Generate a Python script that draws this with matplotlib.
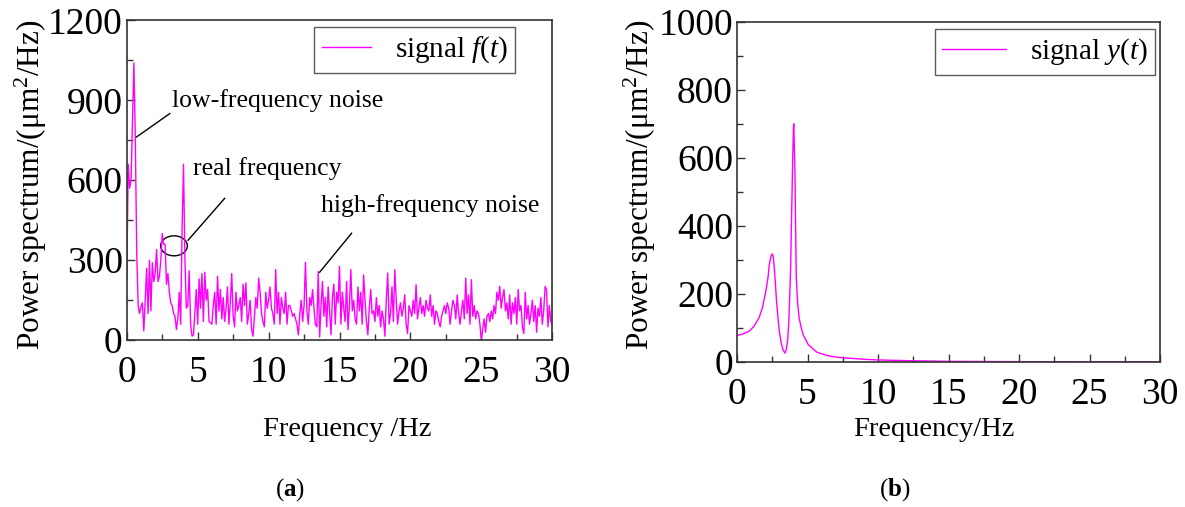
import numpy as np
import matplotlib
matplotlib.use('Agg')
import matplotlib.pyplot as plt
from matplotlib.patches import Ellipse
from matplotlib.ticker import MultipleLocator

# panel (a): measured spectrum, one value every 0.1 Hz from 0 to 30 Hz
psd_f = [
    230, 660, 570, 600, 820, 1040, 760, 330, 130, 100,
    125, 140, 35, 150, 270, 100, 300, 110, 290, 220,
    250, 340, 220, 240, 300, 400, 360, 360, 210, 250,
    180, 140, 130, 100, 90, 40, 80, 180, 60, 420,
    660, 300, 120, 130, 260, 60, 15, 20, 100, 190,
    60, 230, 120, 250, 70, 255, 150, 190, 70, 65,
    60, 130, 180, 60, 240, 110, 190, 80, 160, 70,
    120, 200, 60, 140, 250, 90, 50, 180, 110, 130,
    160, 70, 210, 130, 215, 60, 100, 150, 40, 15,
    90, 160, 120, 233, 180, 100, 70, 50, 180, 120,
    150, 200, 120, 100, 60, 265, 100, 180, 60, 160,
    120, 100, 180, 60, 130, 130, 110, 90, 100, 80,
    60, 20, 100, 150, 70, 130, 292, 110, 60, 160,
    130, 190, 120, 60, 50, 258, 12, 130, 220, 90,
    160, 50, 200, 110, 20, 160, 210, 60, 180, 140,
    277, 60, 180, 120, 70, 220, 40, 130, 265, 110,
    150, 80, 60, 200, 110, 180, 60, 245, 150, 70,
    20, 120, 190, 100, 110, 70, 160, 90, 130, 50,
    110, 80, 15, 150, 252, 60, 100, 200, 70, 265,
    150, 60, 110, 140, 90, 120, 170, 60, 25, 130,
    110, 90, 150, 100, 208, 80, 120, 160, 100, 130,
    90, 150, 120, 110, 170, 90, 130, 60, 110, 100,
    70, 50, 90, 110, 130, 100, 140, 120, 60, 110,
    150, 130, 80, 170, 100, 60, 110, 150, 80, 233,
    100, 170, 60, 227, 90, 130, 80, 110, 100, 60,
    2, 40, 80, 30, 90, 100, 70, 110, 80, 130,
    100, 180, 150, 202, 120, 160, 190, 110, 140, 80,
    170, 60, 140, 100, 160, 60, 190, 110, 130, 50,
    25, 180, 80, 130, 60, 100, 150, 70, 130, 30,
    120, 90, 160, 60, 110, 202, 190, 50, 130, 70,
    60,
]
freq_a = np.arange(len(psd_f)) * 0.1

# panel (b): filtered spectrum
freq_b = [0, 0.4, 0.84, 1.2, 1.56, 1.8, 2.04, 2.2, 2.28, 2.4, 2.48, 2.56, 2.64,
          2.72, 2.8, 2.9, 3.0, 3.12, 3.25, 3.41, 3.5, 3.6, 3.67, 3.73, 3.8,
          3.85, 3.9, 3.94, 3.97, 4.0, 4.02, 4.05, 4.08, 4.11, 4.15, 4.2, 4.3,
          4.4, 4.55, 4.69, 5.05, 5.65, 6.37, 7.1, 8, 9, 10, 12, 15, 20, 25, 30]
psd_y = [78, 82, 90, 105, 130, 160, 208, 250, 286, 310, 318, 312, 276,
         230, 178, 130, 90, 58, 36, 26, 38, 70, 120, 188, 280,
         394, 500, 590, 640, 690, 700, 650, 600, 541, 400, 247, 170,
         130, 100, 80, 51, 29, 19, 14, 11, 8, 6, 4, 2, 1, 0.6, 0.4]

# annotations of panel (a): text anchor and leader line ends (Hz, value)
notes = [
    ('low-frequency noise', (3.17, 900), (0.68, 762), (3.03, 850)),
    ('real frequency', (4.65, 645), (4.32, 375), (6.9, 532)),
    ('high-frequency noise', (13.7, 506), (13.6, 255), (15.85, 401)),
]
ring = (3.33, 354, 1.88, 75)

plt.rcParams['font.family'] = 'Liberation Serif'
plt.rcParams['mathtext.fontset'] = 'custom'
plt.rcParams['mathtext.rm'] = 'Liberation Serif'
plt.rcParams['mathtext.it'] = 'Liberation Serif:italic'
plt.rcParams['mathtext.bf'] = 'Liberation Serif:bold'

magenta = '#ff00ff'
fig = plt.figure(figsize=(11.85, 5.07), dpi=100)
ax1 = fig.add_axes([0.107, 0.329, 0.359, 0.631])
ax2 = fig.add_axes([0.622, 0.286, 0.357, 0.671])

def style(ax, ymax, ymaj):
    ax.set_xlim(0, 30)
    ax.set_ylim(0, ymax)
    ax.xaxis.set_major_locator(MultipleLocator(5))
    ax.xaxis.set_minor_locator(MultipleLocator(2.5))
    ax.yaxis.set_major_locator(MultipleLocator(ymaj))
    ax.yaxis.set_minor_locator(MultipleLocator(ymaj / 2))
    ax.tick_params(which='both', direction='in', top=False, right=False,
                   labelsize=27, width=1, color='#333333')
    ax.tick_params(which='major', length=6)
    ax.tick_params(which='minor', length=4)
    ax.tick_params(axis='x', pad=11)
    ax.tick_params(axis='y', pad=3)
    for s in ax.spines.values():
        s.set_color('#333333')
        s.set_linewidth(1.2)

def add_legend(ax, right, hl):
    leg = ax.legend(loc='upper right', bbox_to_anchor=(right, 0.978), fontsize=21,
                    fancybox=False, edgecolor='#333333', handlelength=hl,
                    borderpad=0.25, handletextpad=0.8, borderaxespad=0)
    leg.get_frame().set_linewidth(1)

# (a)
ax1.plot(freq_a, psd_f, color=magenta, lw=1, label=r'signal $f$($t$)')
style(ax1, 1200, 300)
add_legend(ax1, 0.913, 1.7)
for txt, pos, p0, p1 in notes:
    ax1.text(pos[0], pos[1], txt, fontsize=18.5, va='center')
    ax1.plot([p0[0], p1[0]], [p0[1], p1[1]], color='black', lw=1)
ax1.add_patch(Ellipse(ring[:2], ring[2], ring[3], fill=False, ec='black', lw=1))

# (b)
ax2.plot(freq_b, psd_y, color=magenta, lw=1, label=r'signal $y$($t$)')
style(ax2, 1000, 200)
add_legend(ax2, 0.988, 2.2)

ylab = r'Power spectrum/(μm$^2$/Hz)'
fig.text(0.026, 0.635, ylab, rotation=90, fontsize=22.5, ha='center', va='center')
fig.text(0.540, 0.635, ylab, rotation=90, fontsize=22.5, ha='center', va='center')
fig.text(0.293, 0.152, 'Frequency /Hz', fontsize=20.5, ha='center', va='center')
fig.text(0.788, 0.152, 'Frequency/Hz', fontsize=20.5, ha='center', va='center')
fig.text(0.245, 0.034, r'($\mathbf{a}$)', fontsize=18, ha='center', va='center')
fig.text(0.755, 0.034, r'($\mathbf{b}$)', fontsize=18, ha='center', va='center')

fig.savefig('out.png', dpi=100)
